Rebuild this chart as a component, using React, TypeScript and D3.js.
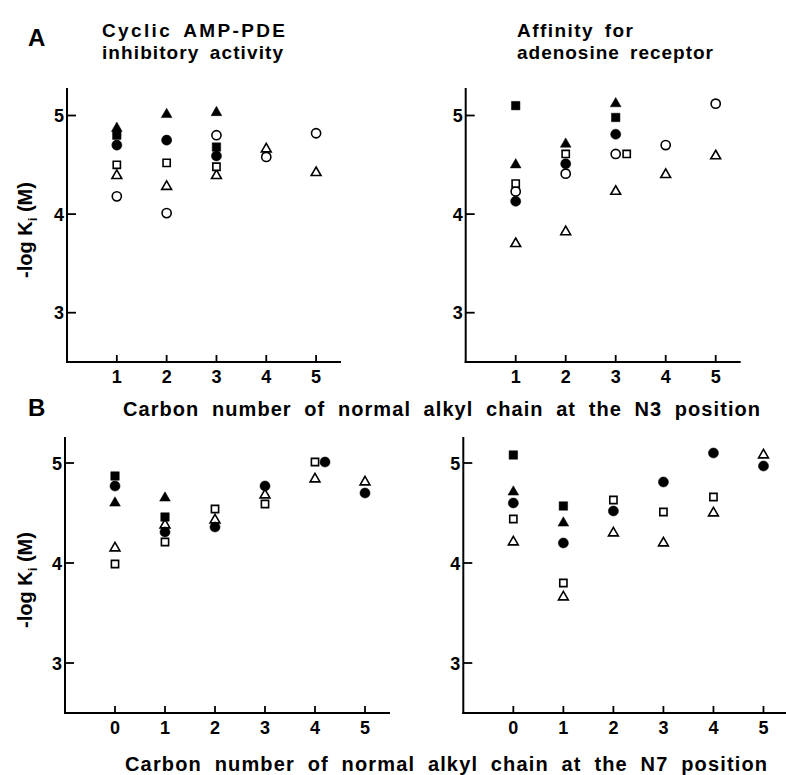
import * as d3 from "d3";

// tick values
const yTicks = [3, 4, 5];
const xTicksN3 = [1, 2, 3, 4, 5];
const xTicksN7 = [0, 1, 2, 3, 4, 5];

// A, left: cyclic AMP-PDE inhibitory activity vs N3 chain length
const pdeN3FilledCircle = [[1, 4.7], [2, 4.75], [3, 4.59]];
const pdeN3OpenCircle = [[1, 4.18], [2, 4.01], [3, 4.8], [4, 4.58], [5, 4.82]];
const pdeN3FilledTriangle = [[1, 4.87], [2, 5.01], [3, 5.03]];
const pdeN3OpenTriangle = [[1, 4.39], [2, 4.28], [3, 4.39], [4, 4.66], [5, 4.42]];
const pdeN3FilledSquare = [[1, 4.8], [3, 4.68]];
const pdeN3OpenSquare = [[1, 4.5], [2, 4.52], [3, 4.48]];

// A, right: affinity for adenosine receptor vs N3 chain length
const recN3FilledCircle = [[1, 4.13], [2, 4.51], [3, 4.81]];
const recN3OpenCircle = [[1, 4.23], [2, 4.41], [3, 4.61], [4, 4.7], [5, 5.12]];
const recN3FilledTriangle = [[1, 4.5], [2, 4.71], [3, 5.12]];
const recN3OpenTriangle = [[1, 3.7], [2, 3.82], [3, 4.23], [4, 4.4], [5, 4.59]];
const recN3FilledSquare = [[1, 5.1], [3, 4.98]];
const recN3OpenSquare = [[1, 4.31], [2, 4.61], [3.22, 4.61]];

// B, left: cyclic AMP-PDE inhibitory activity vs N7 chain length
const pdeN7FilledCircle = [[0, 4.77], [1, 4.31], [2, 4.36], [3, 4.77], [4.2, 5.01], [5, 4.7]];
const pdeN7FilledTriangle = [[0, 4.6], [1, 4.65]];
const pdeN7OpenTriangle = [[0, 4.15], [1, 4.38], [2, 4.43], [3, 4.68], [4, 4.84], [5, 4.81]];
const pdeN7FilledSquare = [[0, 4.87], [1, 4.46]];
const pdeN7OpenSquare = [[0, 3.99], [1, 4.21], [2, 4.54], [3, 4.59], [4, 5.01]];

// B, right: affinity for adenosine receptor vs N7 chain length
const recN7FilledCircle = [[0, 4.6], [1, 4.2], [2, 4.52], [3, 4.81], [4, 5.1], [5, 4.97]];
const recN7FilledTriangle = [[0, 4.71], [1, 4.4]];
const recN7OpenTriangle = [[0, 4.21], [1, 3.66], [2, 4.3], [3, 4.2], [4, 4.5], [5, 5.08]];
const recN7FilledSquare = [[0, 5.08], [1, 4.57]];
const recN7OpenSquare = [[0, 4.44], [1, 3.8], [2, 4.63], [3, 4.51], [4, 4.66]];

const font = "'Liberation Sans', Arial, Helvetica, sans-serif";

const markers = {
  filledCircle: { type: d3.symbolCircle, size: 80, filled: true },
  openCircle: { type: d3.symbolCircle, size: 66, filled: false },
  filledTriangle: { type: d3.symbolTriangle, size: 50, filled: true },
  openTriangle: { type: d3.symbolTriangle, size: 42, filled: false },
  filledSquare: { type: d3.symbolSquare, size: 72, filled: true },
  openSquare: { type: d3.symbolSquare, size: 52, filled: false },
};

type Series = { kind: keyof typeof markers; points: number[][] };

type PanelProps = {
  xDomain: [number, number];
  xRange: [number, number];
  yRange: [number, number];
  top: number;
  xTicks: number[];
  series: Series[];
};

const Panel = ({ xDomain, xRange, yRange, top, xTicks, series }: PanelProps) => {
  const x = d3.scaleLinear().domain(xDomain).range(xRange);
  const y = d3.scaleLinear().domain([2.5, 5]).range(yRange);
  const x0 = xRange[0];
  const y0 = yRange[0];

  return (
    <g>
      <line x1={x0} x2={x0} y1={top} y2={y0 + 1} stroke="#000" strokeWidth={2} />
      <line x1={x0 - 1} x2={xRange[1]} y1={y0} y2={y0} stroke="#000" strokeWidth={2} />
      {yTicks.map((t) => (
        <g key={t}>
          <line x1={x0} x2={x0 + 9} y1={y(t)} y2={y(t)} stroke="#000" strokeWidth={1.8} />
          <text
            x={x0 - 3}
            y={y(t) + 6.5}
            textAnchor="end"
            fontSize={18}
            fontWeight="bold"
            fontFamily={font}
          >
            {t}
          </text>
        </g>
      ))}
      {xTicks.map((t) => (
        <g key={t}>
          <line x1={x(t)} x2={x(t)} y1={y0} y2={y0 - 7} stroke="#000" strokeWidth={1.8} />
          <text
            x={x(t)}
            y={y0 + 21}
            textAnchor="middle"
            fontSize={18}
            fontWeight="bold"
            fontFamily={font}
          >
            {t}
          </text>
        </g>
      ))}
      {series.map((s) => {
        const m = markers[s.kind];
        const path = d3.symbol().type(m.type).size(m.size)();
        return s.points.map((p, i) => (
          <path
            key={s.kind + i}
            d={path ?? ""}
            transform={`translate(${x(p[0])},${y(p[1])})`}
            fill={m.filled ? "#000" : "#fff"}
            stroke="#000"
            strokeWidth={m.filled ? 0.5 : 1.6}
          />
        ));
      })}
    </g>
  );
};

const YLabel = ({ cy }: { cy: number }) => (
  <text
    transform={`translate(32,${cy}) rotate(-90)`}
    textAnchor="middle"
    fontSize={20}
    fontWeight="bold"
    fontFamily={font}
  >
    -log K
    <tspan fontSize={13} dy={5}>i</tspan>
    <tspan dy={-5}> (M)</tspan>
  </text>
);

export default function App() {
  return (
    <svg
      width={786}
      height={775}
      viewBox="0 0 786 775"
      style={{ position: "absolute", left: 0, top: 0, background: "#fff" }}
    >
      <text x={28} y={46} fontSize={24} fontWeight="bold" fontFamily={font}>A</text>
      <text x={28} y={416} fontSize={24} fontWeight="bold" fontFamily={font}>B</text>

      <g fontSize={19} fontWeight="bold" fontFamily={font}>
        <text x={102} y={37} textLength={183} lengthAdjust="spacing" wordSpacing={4}>Cyclic AMP-PDE</text>
        <text x={102} y={59} textLength={181} lengthAdjust="spacing" wordSpacing={4}>inhibitory activity</text>
        <text x={517} y={37} textLength={116} lengthAdjust="spacing" wordSpacing={4}>Affinity for</text>
        <text x={517} y={59} textLength={196} lengthAdjust="spacing" wordSpacing={4}>adenosine receptor</text>
      </g>
      <g fontSize={20} fontWeight="bold" fontFamily={font}>
        <text x={123} y={416} textLength={637} lengthAdjust="spacing" wordSpacing={6}>
          Carbon number of normal alkyl chain at the N3 position
        </text>
        <text x={125} y={771} textLength={642} lengthAdjust="spacing" wordSpacing={6}>
          Carbon number of normal alkyl chain at the N7 position
        </text>
      </g>

      <YLabel cy={230} />
      <YLabel cy={580} />

      <Panel
        xDomain={[0, 5.5]}
        xRange={[67, 341]}
        yRange={[362, 115.5]}
        top={88}
        xTicks={xTicksN3}
        series={[
          { kind: "openCircle", points: pdeN3OpenCircle },
          { kind: "openTriangle", points: pdeN3OpenTriangle },
          { kind: "openSquare", points: pdeN3OpenSquare },
          { kind: "filledCircle", points: pdeN3FilledCircle },
          { kind: "filledSquare", points: pdeN3FilledSquare },
          { kind: "filledTriangle", points: pdeN3FilledTriangle },
        ]}
      />
      <Panel
        xDomain={[0, 5.5]}
        xRange={[465.7, 740.7]}
        yRange={[362, 115.5]}
        top={88}
        xTicks={xTicksN3}
        series={[
          { kind: "openCircle", points: recN3OpenCircle },
          { kind: "openTriangle", points: recN3OpenTriangle },
          { kind: "openSquare", points: recN3OpenSquare },
          { kind: "filledCircle", points: recN3FilledCircle },
          { kind: "filledSquare", points: recN3FilledSquare },
          { kind: "filledTriangle", points: recN3FilledTriangle },
        ]}
      />
      <Panel
        xDomain={[-1, 5.5]}
        xRange={[65, 390]}
        yRange={[713, 463]}
        top={437}
        xTicks={xTicksN7}
        series={[
          { kind: "openTriangle", points: pdeN7OpenTriangle },
          { kind: "openSquare", points: pdeN7OpenSquare },
          { kind: "filledCircle", points: pdeN7FilledCircle },
          { kind: "filledSquare", points: pdeN7FilledSquare },
          { kind: "filledTriangle", points: pdeN7FilledTriangle },
        ]}
      />
      <Panel
        xDomain={[-1, 5.45]}
        xRange={[463.3, 786]}
        yRange={[713, 463]}
        top={437}
        xTicks={xTicksN7}
        series={[
          { kind: "openTriangle", points: recN7OpenTriangle },
          { kind: "openSquare", points: recN7OpenSquare },
          { kind: "filledCircle", points: recN7FilledCircle },
          { kind: "filledSquare", points: recN7FilledSquare },
          { kind: "filledTriangle", points: recN7FilledTriangle },
        ]}
      />
    </svg>
  );
}
